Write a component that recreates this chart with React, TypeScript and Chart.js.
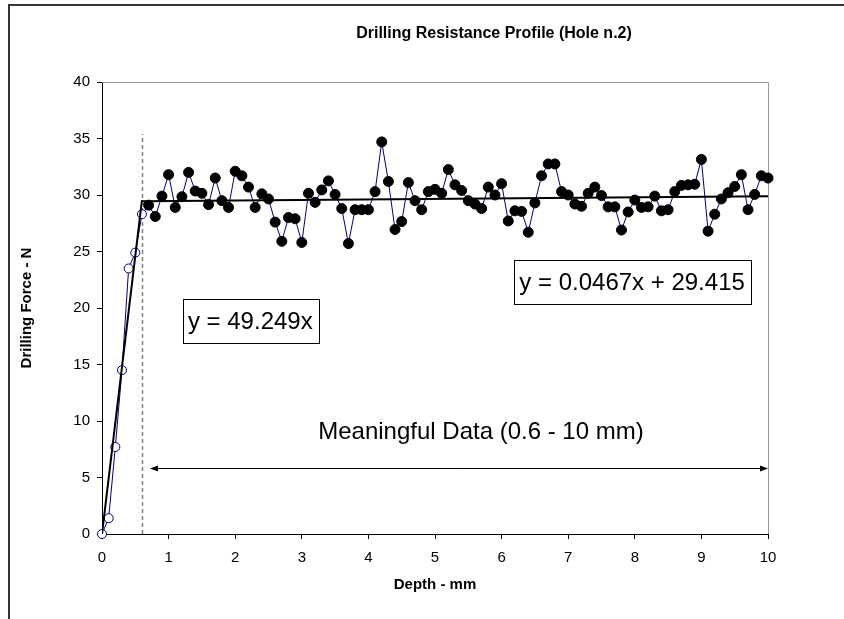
import { useEffect, useRef } from "react";
import { Chart, registerables } from "chart.js";

Chart.register(...registerables);

const FONT = '"Liberation Sans", Arial, Helvetica, sans-serif';

// ---- data ----
const initialDepth = [0, 0.1, 0.2, 0.3, 0.4, 0.5, 0.6];
const initialForce = [0, 1.4, 7.7, 14.5, 23.5, 24.9, 28.3];

const meaningfulDepth = [
  0.7, 0.8, 0.9, 1.0, 1.1, 1.2, 1.3, 1.4, 1.5, 1.6, 1.7, 1.8, 1.9, 2.0, 2.1, 2.2,
  2.3, 2.4, 2.5, 2.6, 2.7, 2.8, 2.9, 3.0, 3.1, 3.2, 3.3, 3.4, 3.5, 3.6, 3.7, 3.8,
  3.9, 4.0, 4.1, 4.2, 4.3, 4.4, 4.5, 4.6, 4.7, 4.8, 4.9, 5.0, 5.1, 5.2, 5.3, 5.4,
  5.5, 5.6, 5.7, 5.8, 5.9, 6.0, 6.1, 6.2, 6.3, 6.4, 6.5, 6.6, 6.7, 6.8, 6.9, 7.0,
  7.1, 7.2, 7.3, 7.4, 7.5, 7.6, 7.7, 7.8, 7.9, 8.0, 8.1, 8.2, 8.3, 8.4, 8.5, 8.6,
  8.7, 8.8, 8.9, 9.0, 9.1, 9.2, 9.3, 9.4, 9.5, 9.6, 9.7, 9.8, 9.9, 10.0,
];
const meaningfulForce = [
  29.1, 28.1, 29.9, 31.8, 28.9, 29.85, 32.0, 30.35, 30.15, 29.15, 31.5, 29.5, 28.9,
  32.1, 31.7, 30.7, 28.9, 30.1, 29.65, 27.6, 25.9, 28.0, 27.9, 25.8, 30.15, 29.35,
  30.45, 31.25, 30.05, 28.8, 25.7, 28.7, 28.7, 28.7, 30.3, 34.7, 31.2, 26.95, 27.65,
  31.1, 29.5, 28.7, 30.3, 30.5, 30.15, 32.25,
  30.9, 30.4, 29.5, 29.2, 28.8, 30.7, 30.0, 31.0, 27.7, 28.6, 28.55, 26.7, 29.3,
  31.7, 32.75, 32.75, 30.3, 30.0, 29.2, 29.0, 30.15, 30.7, 29.95, 28.95, 28.95,
  26.9, 28.5, 29.55, 28.9, 28.95, 29.9, 28.6, 28.7, 30.3, 30.85, 30.9, 30.95,
  33.15, 26.8, 28.3, 29.65, 30.2, 30.75, 31.8, 28.7, 30.05, 31.7, 31.5,
];

// trendline equations shown on the chart
const initialTrend = { slope: 49.249, intercept: 0, from: 0, to: 0.6 };
const meaningfulTrend = { slope: 0.0467, intercept: 29.415, from: 0.6, to: 10 };

const chartTitle = "Drilling Resistance Profile (Hole n.2)";
const xTitle = "Depth - mm";
const yTitle = "Drilling Force - N";
const initialLabel = "y = 49.249x";
const meaningfulLabel = "y = 0.0467x + 29.415";
const rangeLabel = "Meaningful Data (0.6 - 10 mm)";

// annotation anchors in data units
const cutoffDepth = 0.6;
const cutoffTop = 35.4;
const arrowLevel = 5.85;
const arrowFrom = 0.72;
const arrowTo = 10;

function trendPoints(t: { slope: number; intercept: number; from: number; to: number }) {
  return [
    { x: t.from, y: t.slope * t.from + t.intercept },
    { x: t.to, y: t.slope * t.to + t.intercept },
  ];
}

const annotationPlugin = {
  id: "annotations",
  beforeDraw(chart: any) {
    const { ctx, width, height } = chart;
    ctx.save();
    ctx.fillStyle = "#ffffff";
    ctx.fillRect(0, 0, width, height);
    ctx.strokeStyle = "#333333";
    ctx.lineWidth = 2;
    ctx.strokeRect(9, 5, width + 40, height + 40);
    ctx.restore();
  },
  beforeDatasetsDraw(chart: any) {
    const { ctx, chartArea, scales } = chart;
    ctx.save();
    ctx.strokeStyle = "#999999";
    ctx.lineWidth = 1;
    ctx.beginPath();
    ctx.moveTo(chartArea.left, chartArea.top + 0.5);
    ctx.lineTo(chartArea.right + 0.5, chartArea.top + 0.5);
    ctx.lineTo(chartArea.right + 0.5, chartArea.bottom);
    ctx.stroke();
    // dashed cut-off line
    const xc = Math.round(scales.x.getPixelForValue(cutoffDepth)) + 0.5;
    ctx.strokeStyle = "#808080";
    ctx.lineWidth = 1.5;
    ctx.setLineDash([4, 3]);
    ctx.beginPath();
    ctx.moveTo(xc, scales.y.getPixelForValue(0));
    ctx.lineTo(xc, scales.y.getPixelForValue(cutoffTop));
    ctx.stroke();
    ctx.restore();
  },
  afterDatasetsDraw(chart: any) {
    const { ctx, scales } = chart;
    const xs = scales.x;
    const ys = scales.y;
    ctx.save();
    // arrow
    const ay = Math.round(ys.getPixelForValue(arrowLevel)) + 0.5;
    const ax1 = xs.getPixelForValue(arrowFrom);
    const ax2 = xs.getPixelForValue(arrowTo);
    ctx.strokeStyle = "#000";
    ctx.fillStyle = "#000";
    ctx.lineWidth = 1;
    ctx.beginPath();
    ctx.moveTo(ax1 + 6, ay);
    ctx.lineTo(ax2 - 6, ay);
    ctx.stroke();
    ctx.beginPath();
    ctx.moveTo(ax1, ay);
    ctx.lineTo(ax1 + 8, ay - 3);
    ctx.lineTo(ax1 + 8, ay + 3);
    ctx.closePath();
    ctx.fill();
    ctx.beginPath();
    ctx.moveTo(ax2, ay);
    ctx.lineTo(ax2 - 8, ay - 3);
    ctx.lineTo(ax2 - 8, ay + 3);
    ctx.closePath();
    ctx.fill();

    // range label
    ctx.font = `24px ${FONT}`;
    ctx.textAlign = "center";
    ctx.textBaseline = "middle";
    ctx.fillText(rangeLabel, xs.getPixelForValue(5.69), ys.getPixelForValue(9.03));

    // equation boxes
    const box = (text: string, xv: number, yv: number) => {
      ctx.font = `24px ${FONT}`;
      const w = ctx.measureText(text).width;
      const tx = xs.getPixelForValue(xv);
      const cy = ys.getPixelForValue(yv);
      const bx = Math.round(tx - 5) + 0.5;
      const by = Math.round(cy - 22) + 0.5;
      ctx.fillStyle = "#fff";
      ctx.fillRect(bx, by, Math.round(w + 11), 44);
      ctx.strokeStyle = "#000";
      ctx.lineWidth = 1;
      ctx.strokeRect(bx, by, Math.round(w + 11), 44);
      ctx.fillStyle = "#000";
      ctx.textAlign = "left";
      ctx.textBaseline = "middle";
      ctx.fillText(text, tx, cy + 1);
    };
    box(initialLabel, 1.29, 18.85);
    box(meaningfulLabel, 6.266, 22.3);

    // chart title
    ctx.font = `bold 16px ${FONT}`;
    ctx.textAlign = "center";
    ctx.textBaseline = "middle";
    ctx.fillStyle = "#000";
    ctx.fillText(chartTitle, 494, 34);
    ctx.restore();
  },
};

export default function App() {
  const canvasRef = useRef<HTMLCanvasElement | null>(null);

  useEffect(() => {
    if (!canvasRef.current) return;
    const n = initialDepth.length;
    const profile = [
      ...initialDepth.map((x, i) => ({ x, y: initialForce[i] })),
      ...meaningfulDepth.map((x, i) => ({ x, y: meaningfulForce[i] })),
    ];
    const chart = new Chart(canvasRef.current, {
      type: "scatter",
      data: {
        datasets: [
          {
            label: "Trend 1",
            data: trendPoints(initialTrend),
            showLine: true,
            borderColor: "#000",
            borderWidth: 2,
            pointRadius: 0,
          },
          {
            label: "Trend 2",
            data: trendPoints(meaningfulTrend),
            showLine: true,
            borderColor: "#000",
            borderWidth: 2,
            pointRadius: 0,
          },
          {
            label: "Profile",
            data: profile,
            showLine: true,
            clip: false,
            borderColor: "#000080",
            borderWidth: 1,
            tension: 0,
            pointRadius: (c: any) => (c.dataIndex < n ? 4.5 : 5),
            pointBorderWidth: 1,
            pointBackgroundColor: (c: any) => (c.dataIndex < n ? "#ffffff" : "#000000"),
            pointBorderColor: (c: any) => (c.dataIndex < n ? "#000080" : "#000000"),
          },
        ],
      },
      options: {
        animation: false,
        responsive: false,
        devicePixelRatio: 1,
        layout: { padding: { top: 82, right: 76, left: 0, bottom: 0 } },
        plugins: {
          legend: { display: false },
          title: { display: false },
          tooltip: { enabled: false },
        },
        scales: {
          x: {
            type: "linear",
            min: 0,
            max: 10,
            afterFit: (s: any) => {
              s.height = 85;
            },
            ticks: {
              stepSize: 1,
              color: "#000",
              padding: 10,
              font: { family: FONT, size: 15 },
            },
            grid: {
              drawOnChartArea: false,
              drawTicks: true,
              tickLength: 5,
              color: "#000",
            },
            border: { color: "#000", width: 1 },
            title: {
              display: true,
              text: xTitle,
              color: "#000",
              font: { family: FONT, size: 15, weight: "bold" },
              padding: { top: 0, bottom: 25 },
            },
          },
          y: {
            type: "linear",
            min: 0,
            max: 40,
            afterFit: (s: any) => {
              s.width = 102;
            },
            ticks: {
              stepSize: 5,
              color: "#000",
              padding: 7,
              font: { family: FONT, size: 15 },
            },
            grid: {
              drawOnChartArea: false,
              drawTicks: true,
              tickLength: 5,
              color: "#000",
            },
            border: { color: "#000", width: 1 },
            title: {
              display: true,
              text: yTitle,
              color: "#000",
              font: { family: FONT, size: 15, weight: "bold" },
              padding: { top: 18, bottom: 0 },
            },
          },
        },
      },
      plugins: [annotationPlugin],
    } as any);
    return () => chart.destroy();
  }, []);

  return (
    <div style={{ position: "absolute", left: 0, top: 0, width: 844, height: 619 }}>
      <canvas ref={canvasRef} width={844} height={619} style={{ display: "block" }} />
    </div>
  );
}
